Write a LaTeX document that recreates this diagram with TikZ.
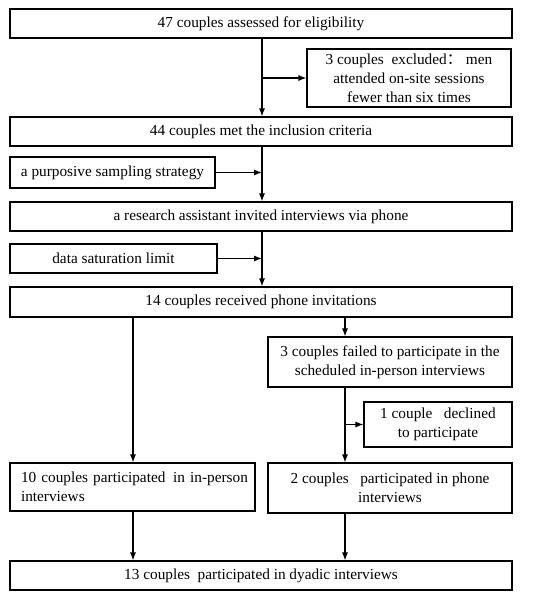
\documentclass[tikz,border=0pt]{standalone}
\usepackage{fontspec}
\setmainfont{Liberation Serif}
\newfontfamily\cjk{Noto Sans CJK SC}
\usetikzlibrary{arrows.meta}
\begin{document}
\begin{tikzpicture}[x=1pt,y=-1pt,
  box/.style={draw,line width=1.1pt,inner sep=2pt,font=\fontsize{15.3}{19}\selectfont,align=center},
  arr/.style={line width=1.1pt,-{Latex[length=8pt,width=6pt]}}]
\useasboundingbox[fill=white] (0,0) rectangle (545,601);
\node[box,minimum width=502pt,minimum height=29pt] (b1) at (261,23.5) {47 couples assessed for eligibility};
\node[box,minimum width=204pt,minimum height=58pt] (ex) at (409,78) {3 couples\ \ excluded{\cjk ：} men\\attended on-site sessions\\fewer than six times};
\node[box,minimum width=502pt,minimum height=29pt] (b2) at (261,131.5) {44 couples met the inclusion criteria};
\node[box,minimum width=205pt,minimum height=31pt] (ps) at (112.5,172.5) {a purposive sampling strategy};
\node[box,minimum width=502pt,minimum height=29pt] (b3) at (261,216.5) {a research assistant invited interviews via phone};
\node[box,minimum width=207pt,minimum height=29pt] (ds) at (113.5,258.5) {data saturation limit};
\node[box,minimum width=502pt,minimum height=30pt] (b4) at (261,302) {14 couples received phone invitations};
\node[box,minimum width=244pt,minimum height=50pt] (fail) at (390,362) {3 couples failed to participate in the\\scheduled in-person interviews};
\node[box,minimum width=148pt,minimum height=45pt] (dec) at (438,424.5) {1 couple\ \ \ declined\\to participate};
\node[box,minimum width=245pt,minimum height=48pt,text width=223pt,inner xsep=11pt,align=left] (ip) at (132.5,487) {\mbox{10 couples participated\ \,in in-person}\\interviews};
\node[box,minimum width=244pt,minimum height=50pt] (ph) at (390,488) {2 couples\ \ \ participated in phone\\interviews};
\node[box,minimum width=502pt,minimum height=29pt] (fin) at (261,575.5) {13 couples\ \ participated in dyadic interviews};
\coordinate (mx) at (262,0);
\coordinate (rx) at (345,0);
\coordinate (lx) at (133,0);
\coordinate (exs) at (mx |- ex.west);
\draw[arr] (b1.south -| mx) -- (b2.north -| mx);
\draw[arr] (exs) -- (ex.west);
\draw[arr] (b2.south -| mx) -- (b3.north -| mx);
\draw[arr] (ps.east) -- (ps.east -| mx);
\draw[arr] (b3.south -| mx) -- (b4.north -| mx);
\draw[arr] (ds.east) -- (ds.east -| mx);
\draw[arr] (b4.south -| rx) -- (fail.north -| rx);
\draw[arr] (fail.south -| rx) -- (ph.north -| rx);
\draw[arr] (rx |- dec.west) -- (dec.west);
\draw[arr] (b4.south -| lx) -- (ip.north -| lx);
\draw[arr] (ip.south -| lx) -- (fin.north -| lx);
\draw[arr] (ph.south -| rx) -- (fin.north -| rx);
\end{tikzpicture}
\end{document}
